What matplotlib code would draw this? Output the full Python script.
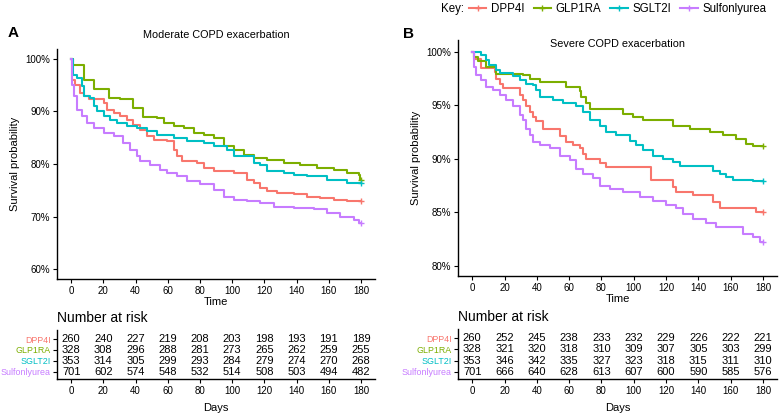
import matplotlib
matplotlib.use("Agg")
import matplotlib.pyplot as plt
from matplotlib.lines import Line2D

plt.rcParams['font.family'] = ['Liberation Sans', 'DejaVu Sans']

groups = ["DPP4I", "GLP1RA", "SGLT2I", "Sulfonlyurea"]
colors = ["#F8766D", "#7CAE00", "#00BFC4", "#C77CFF"]
risk_days = [0, 20, 40, 60, 80, 100, 120, 140, 160, 180]

# Moderate COPD exacerbation (panel A): step points (day, survival %)
a_dpp4i_t = [0, 0.4, 2.5, 5.6, 7.7, 10.8, 20.1, 22.2, 26.3, 30.4, 34.6, 38.7, 42.9, 47.0, 51.2,
             59.4, 63.6, 65.7, 68.8, 78.1, 82.2, 88.4, 100.9, 109.2, 113.3, 117.4, 121.6, 127.8,
             138.2, 146.4, 154.7, 163.0, 171.3, 180]
a_dpp4i_s = [100, 96.0, 95.1, 93.5, 92.9, 92.3, 91.6, 90.3, 89.7, 89.1, 88.4, 87.5, 86.5, 85.3, 84.6,
             84.3, 82.7, 81.5, 80.5, 80.2, 79.2, 78.6, 78.3, 77.0, 76.4, 75.4, 74.8, 74.5,
             74.2, 73.8, 73.5, 73.2, 72.9, 72.9]
a_glp1_t = [0, 1.4, 7.7, 13.9, 23.2, 30.4, 38.7, 44.9, 53.2, 57.4, 63.6, 69.8, 76.0, 82.2, 88.4,
            94.7, 100.9, 107.1, 113.3, 121.6, 131.9, 142.3, 152.6, 163.0, 171.3, 178.5, 179.6, 180]
a_glp1_s = [100, 98.9, 96.0, 94.2, 92.6, 92.3, 90.7, 89.0, 88.8, 87.8, 87.2, 86.9, 85.9, 85.6, 85.0,
            83.4, 82.7, 81.8, 81.1, 80.8, 80.2, 79.9, 79.2, 78.9, 78.3, 78.0, 77.0, 77.0]
a_sglt2_t = [0, 1.4, 3.5, 6.6, 7.7, 11.8, 13.9, 15.9, 20.1, 24.2, 28.4, 34.6, 40.8, 47.0, 53.2,
             63.6, 71.9, 82.2, 88.4, 96.7, 100.9, 113.3, 117.4, 121.6, 131.9, 138.2, 146.4, 158.9,
             171.3, 180]
a_sglt2_s = [100, 97.0, 96.4, 94.8, 92.9, 92.6, 91.0, 90.0, 89.1, 88.4, 87.8, 87.2, 86.9, 86.2, 85.6,
             85.0, 84.3, 84.0, 83.4, 82.7, 81.5, 80.2, 79.9, 78.6, 78.3, 78.0, 77.7, 77.0,
             76.3, 76.3]
a_su_t = [0, 0.4, 1.9, 3.5, 6.6, 9.7, 13.9, 20.1, 26.3, 32.5, 36.7, 40.8, 42.9, 49.1, 55.3, 59.4,
          65.7, 71.9, 80.2, 88.4, 94.7, 100.9, 109.2, 117.4, 125.7, 138.2, 150.6, 158.9, 167.2,
          175.4, 178.5, 180]
a_su_s = [100, 95.0, 92.9, 90.3, 89.1, 87.8, 86.9, 85.9, 85.3, 84.0, 82.7, 81.5, 80.5, 79.9, 78.9, 78.3,
          77.7, 76.7, 76.1, 75.1, 73.8, 73.2, 72.9, 72.6, 71.9, 71.6, 71.4, 70.7, 70.0,
          69.4, 68.8, 68.8]

# Severe COPD exacerbation (panel B)
b_dpp4i_t = [0, 0.8, 5.6, 13.8, 14.9, 16.9, 19.0, 29.3, 31.4, 33.4, 35.5, 37.6, 39.6, 43.8, 54.1,
             58.2, 62.3, 66.5, 68.5, 70.6, 78.9, 83.0, 110.9, 124.3, 126.3, 136.7, 149.1, 153.2,
             175.9, 180]
b_dpp4i_s = [100, 99.3, 98.5, 98.1, 97.5, 97.0, 96.6, 96.0, 95.5, 94.9, 94.4, 93.9, 93.5, 92.8, 92.1,
             91.6, 91.3, 91.0, 90.5, 90.0, 89.6, 89.2, 88.0, 87.4, 86.9, 86.6, 86.0, 85.4,
             85.0, 85.0]
b_glp1_t = [0, 1.4, 3.5, 8.7, 14.9, 31.4, 35.5, 41.7, 58.2, 66.5, 67.5, 70.6, 72.7, 93.3, 99.5,
            105.7, 124.3, 134.6, 147.0, 155.2, 163.5, 169.7, 173.8, 180]
b_glp1_s = [100, 99.5, 99.1, 98.6, 97.9, 97.8, 97.5, 97.2, 96.7, 96.3, 95.8, 95.2, 94.7, 94.2, 93.9,
            93.6, 93.1, 92.8, 92.5, 92.2, 91.9, 91.4, 91.2, 91.2]
b_sglt2_t = [0, 5.6, 8.7, 10.7, 14.9, 16.9, 25.2, 29.3, 33.4, 37.6, 39.6, 41.7, 50.0, 56.2, 64.4,
             68.5, 72.7, 78.9, 83.0, 89.2, 97.4, 101.6, 105.7, 111.9, 118.1, 124.3, 128.4, 149.1,
             153.2, 157.3, 161.4, 173.8, 180]
b_sglt2_s = [100, 99.7, 99.2, 98.8, 98.3, 98.0, 97.7, 97.4, 97.0, 96.9, 96.4, 95.8, 95.5, 95.2, 94.9,
             94.4, 93.6, 93.1, 92.5, 92.2, 91.7, 91.3, 90.8, 90.3, 90.0, 89.7, 89.3, 88.9,
             88.6, 88.3, 88.0, 87.9, 87.9]
b_su_t = [0, 1.4, 2.5, 5.6, 8.7, 12.8, 16.9, 21.1, 25.2, 29.3, 31.4, 33.4, 35.5, 37.6, 41.7, 47.9,
          54.1, 60.3, 64.4, 68.5, 74.7, 78.9, 85.1, 93.3, 103.6, 111.9, 120.1, 126.3, 130.5,
          136.7, 144.9, 151.1, 167.6, 173.8, 177.9, 180]
b_su_s = [100, 98.6, 97.8, 97.4, 96.7, 96.4, 96.0, 95.5, 94.9, 94.1, 93.6, 92.8, 92.2, 91.6, 91.3, 91.0,
          90.3, 89.9, 89.1, 88.6, 88.2, 87.5, 87.2, 86.9, 86.4, 86.1, 85.7, 85.4, 84.9,
          84.4, 84.0, 83.6, 83.0, 82.7, 82.2, 82.2]

# numbers at risk
a_risk_dpp4i = [260, 240, 227, 219, 208, 203, 198, 193, 191, 189]
a_risk_glp1 = [328, 308, 296, 288, 281, 273, 265, 262, 259, 255]
a_risk_sglt2 = [353, 314, 305, 299, 293, 284, 279, 274, 270, 268]
a_risk_su = [701, 602, 574, 548, 532, 514, 508, 503, 494, 482]
b_risk_dpp4i = [260, 252, 245, 238, 233, 232, 229, 226, 222, 221]
b_risk_glp1 = [328, 321, 320, 318, 310, 309, 307, 305, 303, 299]
b_risk_sglt2 = [353, 346, 342, 335, 327, 323, 318, 315, 311, 310]
b_risk_su = [701, 666, 640, 628, 613, 607, 600, 590, 585, 576]

W, H = 781, 413
fig = plt.figure(figsize=(W / 100, H / 100), dpi=100)


def box(l, t, r, b):
    return [l / W, 1 - b / H, (r - l) / W, (b - t) / H]


def style(ax):
    for s in ["top", "right"]:
        ax.spines[s].set_visible(False)
    for s in ["left", "bottom"]:
        ax.spines[s].set_linewidth(1.0)
    ax.tick_params(length=3, width=0.8, labelsize=7, colors="black", pad=2)


def km_panel(rect, curves, ylim, yticks, title, title_y):
    ax = fig.add_axes(box(*rect))
    for (t, s), c in zip(curves, colors):
        ax.step(t, s, where="post", color=c, lw=1.5)
        ax.plot(t[-1], s[-1], marker="+", color=c, ms=5, mew=1.0)
    ax.set_xlim(-8.8, 188.7)
    ax.set_ylim(*ylim)
    ax.set_xticks(risk_days)
    ax.set_yticks(yticks)
    ax.set_yticklabels([f"{v}%" for v in yticks])
    ax.set_xlabel("Time", fontsize=8, labelpad=1)
    ax.set_ylabel("Survival probability", fontsize=8)
    style(ax)
    ax.text(0.5, title_y, title, transform=ax.transAxes, ha="center", va="center", fontsize=7.8)
    return ax


def risk_panel(rect, rows):
    ax = fig.add_axes(box(*rect))
    ypos = [4, 3, 2, 1]
    for y, vals in zip(ypos, rows):
        for d, v in zip(risk_days, vals):
            ax.text(d, y, str(v), ha="center", va="center", fontsize=8)
    ax.set_xlim(-8.8, 188.7)
    ax.set_ylim(0.36, 4.82)
    ax.set_xticks(risk_days)
    ax.set_yticks(ypos)
    style(ax)
    ax.tick_params(axis="y", pad=1.5)
    ax.set_yticklabels(groups, fontsize=6.4)
    for lab, c in zip(ax.get_yticklabels(), colors):
        lab.set_color(c)
    ax.set_xlabel("Days", fontsize=8, labelpad=5)
    ax.text(0, 1.1, "Number at risk", transform=ax.transAxes, ha="left", va="bottom", fontsize=10)
    return ax


ax_a = km_panel((57, 49, 375, 279),
                [(a_dpp4i_t, a_dpp4i_s), (a_glp1_t, a_glp1_s), (a_sglt2_t, a_sglt2_s), (a_su_t, a_su_s)],
                (58.1, 101.9), [60, 70, 80, 90, 100], "Moderate COPD exacerbation", 1.06)
ax_b = km_panel((458, 40, 777, 276),
                [(b_dpp4i_t, b_dpp4i_s), (b_glp1_t, b_glp1_s), (b_sglt2_t, b_sglt2_s), (b_su_t, b_su_s)],
                (79.07, 101.1), [80, 85, 90, 95, 100], "Severe COPD exacerbation", 0.985)

risk_panel((57, 330, 375, 379), [a_risk_dpp4i, a_risk_glp1, a_risk_sglt2, a_risk_su])
risk_panel((458, 329, 777, 379), [b_risk_dpp4i, b_risk_glp1, b_risk_sglt2, b_risk_su])

fig.text(8 / W, 1 - 33 / H, "A", fontsize=11, fontweight="bold", va="center")
fig.text(403 / W, 1 - 34 / H, "B", fontsize=11, fontweight="bold", va="center")

# legend
handles = [Line2D([], [], color=c, lw=1.5, marker="+", ms=5, mew=1.0) for c in colors]
fig.text(441 / W, 1 - 9 / H, "Key:", fontsize=8.3, va="center")
fig.legend(handles, groups, loc="center left", bbox_to_anchor=(469 / W, 1 - 9 / H), ncol=4,
           frameon=False, fontsize=8.3, handlelength=1.5, handletextpad=0.4, columnspacing=0.8,
           borderpad=0, borderaxespad=0)

fig.savefig("out.png", dpi=100)
